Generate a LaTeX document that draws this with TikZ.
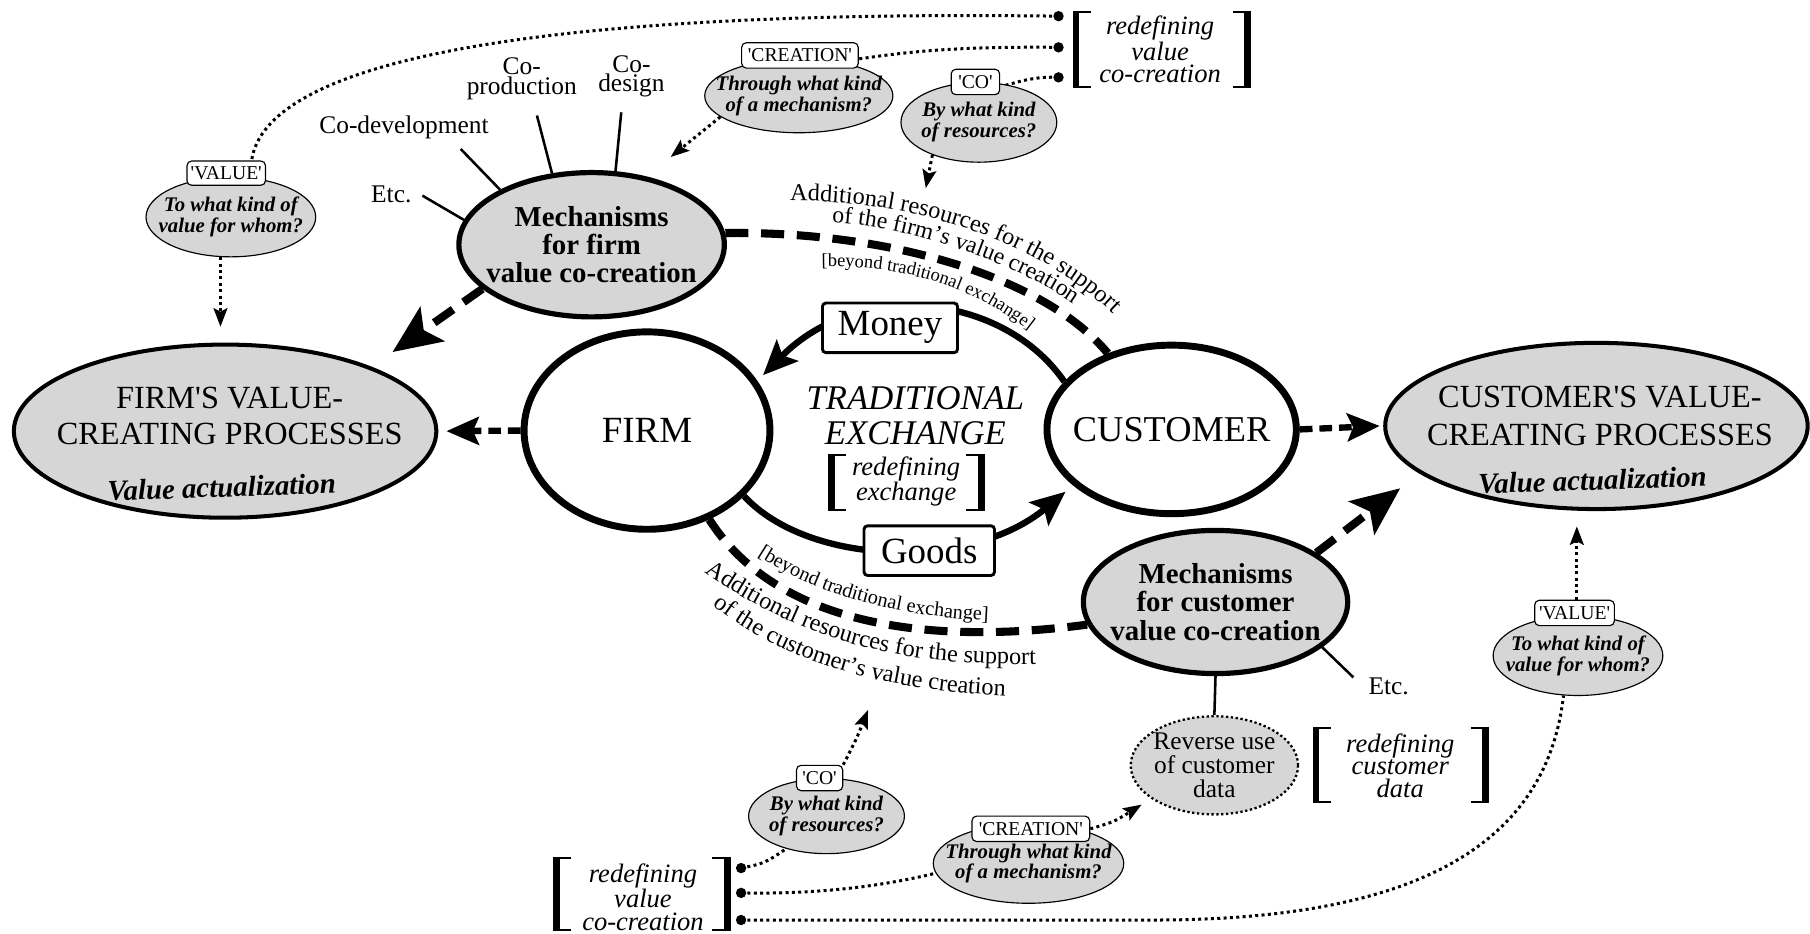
\documentclass[tikz,border=0pt]{standalone}
\usepackage{fontspec}
\setmainfont{Liberation Serif}
\usetikzlibrary{shapes.geometric,arrows.meta,decorations.text,calc}
\pgfdeclarelayer{bg}
\pgfsetlayers{bg,main}
\newcommand\fsz[2]{\fontsize{#1}{#2}\selectfont}
\newcommand\straightq{\textquotesingle}
\definecolor{bubble}{RGB}{214,214,214}
\newcommand\drawbrackets[4]{%
  \draw[line width=1.8pt] (#1+15,#3) -- (#1,#3) -- (#1,#4) -- (#1+15,#4);
  \draw[line width=5pt] (#1+2.5,#3-0.9) -- (#1+2.5,#4+0.9);
  \draw[line width=1.8pt] (#2-15,#3) -- (#2,#3) -- (#2,#4) -- (#2-15,#4);
  \draw[line width=5pt] (#2-2.5,#3-0.9) -- (#2-2.5,#4+0.9);}
\begin{document}
\begin{tikzpicture}[x=1pt,y=-1pt,
 ell/.style={ellipse, draw, inner sep=0pt, align=center},
 procell/.style={ell, line width=3.5pt, fill=bubble},
 actor/.style={ell, line width=6pt, fill=white, font=\fsz{32}{34}, inner xsep=-25pt},
 mech/.style={ell, line width=4.5pt, fill=bubble, font=\fsz{25}{24.5}\bfseries, inner xsep=-20pt, inner ysep=-5pt},
 quest/.style={ell, line width=1pt, fill=bubble, font=\fsz{18}{18}\bfseries\itshape, inner xsep=-22pt, inner ysep=-3pt},
 tagbox/.style={draw, rounded corners=4pt, fill=white, line width=1pt, inner sep=0pt, font=\fsz{17}{17}},
 flowbox/.style={draw, rounded corners=3pt, fill=white, line width=2.5pt, inner sep=0pt, font=\fsz{32}{34}},
 plain/.style={inner sep=1pt, align=center},
 ital/.style={plain, font=\fsz{23}{19.5}\itshape},
 spoke/.style={line width=2.2pt},
 thickdash/.style={line width=7pt, dash pattern=on 20pt off 11pt},
 shortdash/.style={line width=5.5pt, dash pattern=on 11pt off 6pt},
 dotline/.style={line width=2.6pt, dash pattern=on 2.6pt off 2.9pt},
 loopline/.style={line width=5.5pt},
 bighead/.style={-{Stealth[length=42pt,width=36pt,inset=9pt]}},
 midhead/.style={-{Stealth[length=28pt,width=24pt,inset=5pt]}},
 loophead/.style={-{Stealth[length=30pt,width=26pt,inset=6pt]}},
 smallhead/.style={-{Stealth[length=16pt,width=12pt,inset=3pt]}},
]
\useasboundingbox (0,0) rectangle (1568,809);

% main process ellipses
\node[procell, minimum width=366pt, minimum height=150pt] (fv) at (195,373.5) {};
\node[plain, font=\fsz{28}{31}] (fvt) at (199,360) {FIRM\straightq S VALUE-\\CREATING PROCESSES};
\node[plain, font=\fsz{25}{26}\bfseries\itshape, rotate=2] (fva) at (192,422) {Value actualization};

\node[procell, minimum width=366pt, minimum height=144pt] (cv) at (1383,369) {};
\node[plain, font=\fsz{28}{33}] (cvt) at (1386,360.5) {CUSTOMER\straightq S VALUE-\\CREATING PROCESSES};
\node[plain, font=\fsz{25}{26}\bfseries\itshape, rotate=2] (cva) at (1379.5,416) {Value actualization};

\node[actor, minimum width=213pt, minimum height=171pt] (firm) at (560.5,373) {FIRM};
\node[actor, minimum width=216pt, minimum height=146pt, font=\fsz{31.5}{34}] (cust) at (1015,372) {CUSTOMER};

\node[mech, minimum width=230pt, minimum height=125pt] (mf) at (512.5,212) {Mechanisms\\for firm\\value co-creation};
\node[mech, minimum width=229pt, minimum height=124pt] (mc) at (1053,521.5) {Mechanisms\\for customer\\value co-creation};

\node[ell, fill=bubble, line width=2pt, dash pattern=on 2pt off 2.2pt, inner sep=-6pt, minimum width=145pt, minimum height=85pt, font=\fsz{22}{20.5}] (rev) at (1052,663) {Reverse use\\of customer\\data};

% question bubbles
\node[quest, minimum width=163pt, minimum height=64pt] (qcr1) at (692,83) {Through what kind\\of a mechanism?};
\node[quest, minimum width=135pt, minimum height=69pt] (qco1) at (848,106) {By what kind\\of resources?};
\node[quest, minimum width=147pt, minimum height=69pt] (qv1) at (200,188) {To what kind of\\value for whom?};
\node[quest, minimum width=147pt, minimum height=69pt] (qv2) at (1367,568) {To what kind of\\value for whom?};
\node[quest, minimum width=135pt, minimum height=65pt] (qco2) at (716,707) {By what kind\\of resources?};
\node[quest, minimum width=165pt, minimum height=69pt] (qcr2) at (891,748) {Through what kind\\of a mechanism?};

% tags
\node[tagbox, minimum width=101pt, minimum height=22pt] (lcr1) at (693,48) {\straightq CREATION\straightq};
\node[tagbox, minimum width=42pt, minimum height=22pt] (lco1) at (845,71) {\straightq CO\straightq};
\node[tagbox, minimum width=68pt, minimum height=21pt] (lv1) at (196,150) {\straightq VALUE\straightq};
\node[tagbox, minimum width=69pt, minimum height=22pt] (lv2) at (1364,531) {\straightq VALUE\straightq};
\node[tagbox, minimum width=40pt, minimum height=22pt] (lco2) at (710,674) {\straightq CO\straightq};
\node[tagbox, minimum width=102pt, minimum height=22pt] (lcr2) at (893,718) {\straightq CREATION\straightq};

% exchange boxes
\node[flowbox, minimum width=117pt, minimum height=43pt] (money) at (771,284) {Money};
\node[flowbox, minimum width=113pt, minimum height=43pt] (goods) at (805,477) {Goods};

% centre and bracket texts
\node[plain, font=\fsz{30}{30}\itshape] (trad) at (793,360) {TRADITIONAL\\EXCHANGE};
\node[ital] (exch) at (785,417) {redefining\\exchange};
\node[ital] (tbk) at (1005,43) {redefining\\value\\co-creation};
\node[ital] (bbk) at (557,777) {redefining\\value\\co-creation};
\node[ital] (rbk) at (1213,663) {redefining\\customer\\data};
\drawbrackets{718}{852}{394}{442}
\drawbrackets{930}{1083}{10}{75}
\drawbrackets{480}{632}{743}{806}
\drawbrackets{1138}{1289}{631}{695}

% mechanism labels
\node[plain, font=\fsz{22}{22}] (etc1) at (339,168) {Etc.};
\node[plain, font=\fsz{22}{22}] (codev) at (350,110) {Co-development};
\node[plain, font=\fsz{22}{17.5}] (coprod) at (452,68) {Co-\\production};
\node[plain, font=\fsz{22}{16}] (codes) at (547,66) {Co-\\design};
\node[plain, font=\fsz{22}{22}] (etc2) at (1203,595) {Etc.};

% coordinates
\coordinate (d1) at (917,14);
\coordinate (d2) at (917,41);
\coordinate (d3) at (917,67);
\coordinate (d4) at (642,752);
\coordinate (d5) at (642,773.5);
\coordinate (d6) at (642,797);
\coordinate (bend6) at (1000,797);
\coordinate (t1) at (340,305);
\coordinate (t2) at (1213,423);
\coordinate (tm) at (661,325);
\coordinate (tg) at (923,426);
\coordinate (a1) at (581,136);
\coordinate (a2) at (802,163);
\coordinate (a3) at (191,283);
\coordinate (a4) at (1366,456);
\coordinate (a5) at (752,615);
\coordinate (a6) at (989,697);

\foreach \d in {d1,d2,d3,d4,d5,d6} \fill (\d) circle (4.5pt);

% curved texts
\path[decorate, decoration={text along path, text align=center, text={|\fsz{21}{21}|Additional resources for the support}}] (676,174) .. controls (780,172) and (898,203) .. (970,278);
\path[decorate, decoration={text along path, text align=center, text={|\fsz{20.5}{20.5}|of the firm's value creation}}] (716,193) .. controls (775,193) and (878,225) .. (934,266);
\path[decorate, decoration={text along path, text align=center, text={|\fsz{16}{16}|{[}beyond traditional exchange{]}}}] (706,231) .. controls (765,229) and (834,240) .. (896,290);
\path[decorate, decoration={text along path, text align=center, text={|\fsz{17.5}{17.5}|{[}beyond traditional exchange{]}}}] (648,476) .. controls (700,512) and (770,535) .. (866,538);
\path[decorate, decoration={text along path, text align=center, text={|\fsz{21}{21}|Additional resources for the support}}] (605,492) .. controls (700,560) and (790,578) .. (904,575);
\path[decorate, decoration={text along path, text align=center, text={|\fsz{21}{21}|of the customer's value creation}}] (612,520) .. controls (670,568) and (750,598) .. (878,603);

\begin{pgfonlayer}{bg}
% spokes
\draw[spoke] (mf.169) -- ++(149.7:41.7pt) coordinate (s1);
\draw[spoke] (mf.149) -- ++(134:49pt) coordinate (s2);
\draw[spoke] (mf.119) -- ++(104.6:51.7pt) coordinate (s3);
\draw[spoke] (mf.72) -- ++(84.4:51.2pt) coordinate (s4);
\draw[spoke] (mc.-23) -- ++(-44:37.5pt) coordinate (s5);
\draw[spoke] (mc.south) -- (rev.north);
% thick dashed resource flows
\draw[thickdash] (mf.5) .. controls (770,200) and (905,240) .. (cust.130);
\draw[thickdash] (firm.-55) .. controls (672,540) and (800,560) .. (mc.190);
\draw[thickdash, bighead] (mf.202) -- (t1);
\draw[thickdash, bighead] (mc.26) -- (t2);
\draw[shortdash, midhead] (firm.west) -- ([xshift=7pt]fv.east);
\draw[shortdash, midhead] (cust.east) -- ([xshift=-3pt]cv.west);
% traditional exchange loop
\draw[loopline, loophead] (cust.156) .. controls (870,255) and (745,240) .. (tm);
\draw[loopline, loophead] (firm.-34) .. controls (700,490) and (840,495) .. (tg);
% dotted question links
\draw[dotline] (d1) .. controls (450,8) and (230,55) .. ([xshift=22pt]lv1.north);
\draw[dotline] (d2) .. controls (820,40) and (780,46) .. ([yshift=-3pt]lcr1.east);
\draw[dotline] (d3) .. controls (893,66) and (880,72) .. ([yshift=-4pt]lco1.east);
\draw[dotline, smallhead] (qcr1.195) -- (a1);
\draw[dotline, smallhead] (qco1.215) -- (a2);
\draw[dotline, smallhead] ([xshift=-9pt]qv1.south) -- (a3);
\draw[dotline, smallhead] ([xshift=2pt]lv2.north) -- (a4);
\draw[dotline, smallhead] (lco2.north east) .. controls (742,640) .. (a5);
\draw[dotline, smallhead] (lcr2.east) .. controls (965,712) .. (a6);
\draw[dotline] (d4) .. controls (662,748) .. (qco2.219);
\draw[dotline] (d5) .. controls (720,775) and (775,765) .. (qcr2.186);
\draw[dotline] (d6) -- (bend6) .. controls (1230,797) and (1340,730) .. (qv2.250);
\end{pgfonlayer}
\end{tikzpicture}
\end{document}
